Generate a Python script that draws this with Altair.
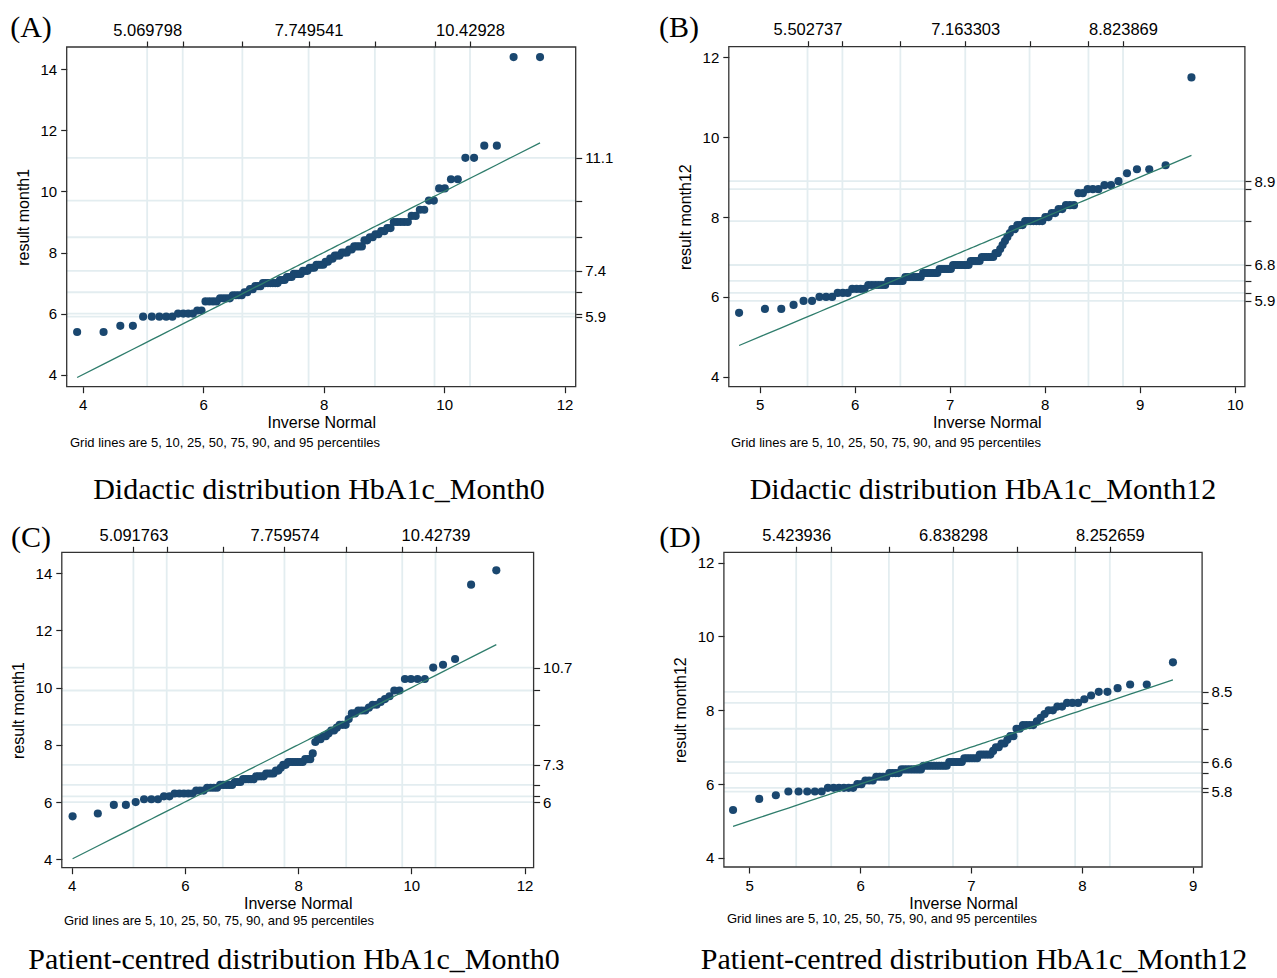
import altair as alt
import pandas as pd

W, H = 1277, 978

A_VALUES = [5.4, 5.4, 5.6, 5.6, 5.9, 5.9, 5.9, 5.9, 5.9, 6.0, 6.0, 6.0, 6.0, 6.1, 6.1,
            6.4, 6.4, 6.4, 6.4, 6.5, 6.5, 6.5, 6.5, 6.6, 6.6, 6.6, 6.6, 6.7, 6.7, 6.8, 6.8,
            6.9, 6.9, 6.9, 7.0, 7.0, 7.0, 7.0, 7.0, 7.0, 7.0, 7.1, 7.1, 7.1, 7.2, 7.2, 7.2,
            7.3, 7.3, 7.3, 7.3, 7.4, 7.4, 7.4, 7.5, 7.5, 7.5, 7.6, 7.6, 7.6, 7.6, 7.7, 7.7,
            7.8, 7.8, 7.9, 7.9, 7.9, 8.0, 8.0, 8.0, 8.1, 8.1, 8.2, 8.2, 8.2, 8.2, 8.4, 8.4,
            8.5, 8.5, 8.6, 8.6, 8.7, 8.7, 8.8, 8.8, 9.0, 9.0, 9.0, 9.0, 9.0, 9.2, 9.2, 9.4,
            9.4, 9.7, 9.7, 10.1, 10.1, 10.4, 10.4, 11.1, 11.1, 11.5, 11.5, 14.4, 14.4]
B_VALUES = [5.6, 5.7, 5.7, 5.8, 5.9, 5.9, 6.0, 6.0, 6.0, 6.1, 6.1, 6.1, 6.2, 6.2, 6.2, 6.2,
            6.3, 6.3, 6.3, 6.3, 6.3, 6.3, 6.4, 6.4, 6.4, 6.4, 6.4, 6.4, 6.5, 6.5, 6.5, 6.5,
            6.5, 6.5, 6.5, 6.6, 6.6, 6.6, 6.6, 6.6, 6.6, 6.6, 6.7, 6.7, 6.7, 6.7, 6.7, 6.7,
            6.8, 6.8, 6.8, 6.8, 6.8, 6.8, 6.8, 6.8, 6.9, 6.9, 6.9, 6.9, 6.9, 7.0, 7.0, 7.0,
            7.0, 7.0, 7.0, 7.1, 7.1, 7.2, 7.3, 7.4, 7.5, 7.6, 7.7, 7.7, 7.8, 7.8, 7.8, 7.9,
            7.9, 7.9, 7.9, 7.9, 7.9, 7.9, 8.0, 8.0, 8.1, 8.1, 8.2, 8.2, 8.3, 8.3, 8.3, 8.6,
            8.6, 8.7, 8.7, 8.7, 8.8, 8.8, 8.9, 9.1, 9.2, 9.2, 9.3, 11.5]
C_VALUES = [5.5, 5.6, 5.9, 5.9, 6.0, 6.1, 6.1, 6.1, 6.2, 6.2, 6.3, 6.3, 6.3, 6.3, 6.3,
            6.4, 6.4, 6.4, 6.5, 6.5, 6.5, 6.5, 6.6, 6.6, 6.6, 6.6, 6.6, 6.7, 6.7, 6.7, 6.8,
            6.8, 6.8, 6.8, 6.8, 6.9, 6.9, 6.9, 6.9, 7.0, 7.0, 7.0, 7.0, 7.1, 7.1, 7.2, 7.3,
            7.3, 7.4, 7.4, 7.4, 7.4, 7.4, 7.4, 7.4, 7.5, 7.5, 7.5, 7.7, 8.1, 8.2, 8.2, 8.3,
            8.3, 8.4, 8.5, 8.5, 8.6, 8.7, 8.7, 8.7, 8.9, 9.1, 9.1, 9.2, 9.2, 9.2, 9.3, 9.4,
            9.4, 9.5, 9.6, 9.7, 9.9, 9.9, 10.3, 10.3, 10.3, 10.3, 10.7, 10.8, 11.0, 13.6, 14.1]
D_VALUES = [5.3, 5.6, 5.7, 5.8, 5.8, 5.8, 5.8, 5.8, 5.9, 5.9, 5.9, 5.9, 5.9, 5.9, 6.0,
            6.0, 6.1, 6.1, 6.1, 6.2, 6.2, 6.2, 6.2, 6.3, 6.3, 6.3, 6.3, 6.4, 6.4, 6.4, 6.4,
            6.4, 6.4, 6.4, 6.4, 6.5, 6.5, 6.5, 6.5, 6.5, 6.5, 6.5, 6.5, 6.5, 6.5, 6.6, 6.6,
            6.6, 6.6, 6.6, 6.6, 6.7, 6.7, 6.7, 6.7, 6.7, 6.7, 6.8, 6.8, 6.8, 6.8, 6.8, 6.9,
            7.0, 7.0, 7.1, 7.1, 7.2, 7.3, 7.3, 7.5, 7.5, 7.6, 7.6, 7.6, 7.6, 7.7, 7.8, 7.9,
            8.0, 8.0, 8.1, 8.1, 8.2, 8.2, 8.2, 8.3, 8.4, 8.5, 8.5, 8.6, 8.7, 8.7, 9.3]

# normal reference (mean and sd as given by the top axis: 50th and 95th percentile labels)
MEANS = [7.749541, 7.163303, 7.759574, 6.838298]
SDS = [1.62916, 1.00955, 1.62192, 0.85987]

# tick values
TOP_TICKS = [[5.069798, 5.66, 6.65, 7.749541, 8.85, 9.84, 10.42928],
             [5.502737, 5.87, 6.48, 7.163303, 7.84, 8.46, 8.823869],
             [5.091763, 5.68, 6.67, 7.759574, 8.85, 9.84, 10.42739],
             [5.423936, 5.74, 6.26, 6.838298, 7.42, 7.94, 8.252659]]
TOP_LABELS = [["5.069798", "7.749541", "10.42928"],
              ["5.502737", "7.163303", "8.823869"],
              ["5.091763", "7.759574", "10.42739"],
              ["5.423936", "6.838298", "8.252659"]]
RIGHT_TICKS = [[5.9, 6.0, 6.7, 7.4, 8.5, 9.7, 11.1],
               [5.9, 6.1, 6.4, 6.8, 7.9, 8.7, 8.9],
               [6.0, 6.2, 6.6, 7.3, 8.7, 9.9, 10.7],
               [5.8, 5.9, 6.3, 6.6, 7.5, 8.2, 8.5]]
RIGHT_LABELS = [["5.9", "7.4", "11.1"],
                ["5.9", "6.8", "8.9"],
                ["6", "7.3", "10.7"],
                ["5.8", "6.6", "8.5"]]
LEFT_TICKS = [[4, 6, 8, 10, 12, 14], [4, 6, 8, 10, 12], [4, 6, 8, 10, 12, 14], [4, 6, 8, 10, 12]]
BOTTOM_TICKS = [[4, 6, 8, 10, 12], [5, 6, 7, 8, 9, 10], [4, 6, 8, 10, 12], [5, 6, 7, 8, 9]]

PANEL_IDS = ["(A)", "(B)", "(C)", "(D)"]
CAPTIONS = ["Didactic distribution HbA1c_Month0", "Didactic distribution HbA1c_Month12",
            "Patient-centred distribution HbA1c_Month0", "Patient-centred distribution HbA1c_Month12"]
Y_TITLES = ["result month1", "result month12", "result month1", "result month12"]
X_TITLE = "Inverse Normal"
NOTE = "Grid lines are 5, 10, 25, 50, 75, 90, and 95 percentiles"

# ---------------- layout (pixels) ----------------
PANEL_BOX = [(66.7, 47.0, 575.7, 386.7), (728.8, 46.7, 1244.9, 386.7),
             (61.8, 552.3, 533.6, 867.7), (723.9, 552.3, 1202.1, 867.0)]
X_DOM = [(3.734, 12.184), (4.674, 10.107), (3.827, 12.16), (4.772, 9.085)]
Y_DOM = [(3.607, 14.73), (3.75, 12.27), (3.706, 14.73), (3.756, 12.28)]
ID_POS = [(31, 28), (679, 28), (31, 538), (680, 538)]
NOTE_POS = [(70, 447), (731, 447), (64, 925), (727, 923)]
CAP_POS = [(319, 499), (983, 499), (294, 969), (974, 969)]

NAVY = "#1a476f"
LINE = "#2f7d6c"
GRID = "#e3edf0"
FRAME = "#333333"
SANS = "Liberation Sans, Arial, Helvetica, sans-serif"
SERIF = "Liberation Serif, Times New Roman, serif"


def label_expr_pairs(values, labels):
    parts = []
    for v, lab in zip(values, labels):
        parts.append(f"abs(datum.value - {v}) < 1e-9 ? '{lab}' : ")
    return "".join(parts) + "''"


one = pd.DataFrame({"k": [0]})


def panel(i, values):
    L, T, R, B = PANEL_BOX[i]
    x0, x1 = X_DOM[i]
    y0, y1 = Y_DOM[i]
    sx = alt.Scale(domain=[x0, x1], range=[L, R], nice=False, zero=False)
    sy = alt.Scale(domain=[y0, y1], range=[B, T], nice=False, zero=False)

    top_vals = [float(v) for v in TOP_LABELS[i]]
    top_axis = alt.Axis(orient="top", values=TOP_TICKS[i], offset=-T, title=None,
                        labelExpr=label_expr_pairs(top_vals, TOP_LABELS[i]),
                        labelPadding=3, labelFontSize=16.5)
    right_vals = [float(v) for v in RIGHT_LABELS[i]]
    right_axis = alt.Axis(orient="right", values=RIGHT_TICKS[i], offset=R - W, title=None,
                          labelExpr=label_expr_pairs(right_vals, RIGHT_LABELS[i]),
                          labelPadding=3)
    left_axis = alt.Axis(orient="left", values=LEFT_TICKS[i], offset=-L, title=Y_TITLES[i],
                         labelPadding=4, titlePadding=9)
    bottom_axis = alt.Axis(orient="bottom", values=BOTTOM_TICKS[i], offset=B - H, title=X_TITLE,
                           labelPadding=5, titlePadding=2)

    vgrid = alt.Chart(pd.DataFrame({"g": TOP_TICKS[i]})).mark_rule(
        color=GRID, strokeWidth=1.8).encode(
        x=alt.X("g:Q", scale=sx, axis=top_axis),
        y=alt.YDatum(y0, scale=sy, axis=None),
        y2=alt.Y2Datum(y1))
    hgrid = alt.Chart(pd.DataFrame({"g": RIGHT_TICKS[i]})).mark_rule(
        color=GRID, strokeWidth=1.8).encode(
        y=alt.Y("g:Q", scale=sy, axis=right_axis),
        x=alt.XDatum(x0, scale=sx, axis=None),
        x2=alt.X2Datum(x1))
    frame = alt.Chart(one).mark_rect(fillOpacity=0, stroke=FRAME, strokeWidth=1.3).encode(
        x=alt.XDatum(x0, scale=sx, axis=None), x2=alt.X2Datum(x1),
        y=alt.YDatum(y0, scale=sy, axis=None), y2=alt.Y2Datum(y1))

    base = alt.Chart(pd.DataFrame({"v": values})).transform_window(
        rank="row_number()", sort=[alt.SortField("v")]
    ).transform_joinaggregate(n="count()").transform_calculate(
        q=f"quantileNormal(datum.rank / (datum.n + 1), {MEANS[i]}, {SDS[i]})")

    pts = base.mark_circle(size=66, color=NAVY, opacity=1).encode(
        x=alt.X("q:Q", scale=sx, axis=bottom_axis),
        y=alt.Y("v:Q", scale=sy, axis=left_axis))
    ref = base.mark_line(color=LINE, strokeWidth=1.3).encode(
        x=alt.X("q:Q", scale=sx, axis=None),
        y=alt.Y("q:Q", scale=sy, axis=None))

    pid = alt.Chart(one).mark_text(text=PANEL_IDS[i], font=SERIF, fontSize=30, align="center",
                                   baseline="middle", color="#000").encode(
        x=alt.value(ID_POS[i][0]), y=alt.value(ID_POS[i][1]))
    note = alt.Chart(one).mark_text(text=NOTE, font=SANS, fontSize=13, align="left",
                                    baseline="alphabetic", color="#000").encode(
        x=alt.value(NOTE_POS[i][0]), y=alt.value(NOTE_POS[i][1]))
    cap = alt.Chart(one).mark_text(text=CAPTIONS[i], font=SERIF, fontSize=30, align="center",
                                   baseline="alphabetic", color="#000").encode(
        x=alt.value(CAP_POS[i][0]), y=alt.value(CAP_POS[i][1]))
    return [vgrid, hgrid, frame, pts, ref, pid, note, cap]


layers = []
for idx, vals in enumerate([A_VALUES, B_VALUES, C_VALUES, D_VALUES]):
    layers += panel(idx, vals)

chart = alt.layer(*layers).resolve_scale(x="independent", y="independent").properties(
    width=W, height=H, padding=0, autosize="none", background="white"
).configure_view(stroke=None).configure_axis(
    labelFont=SANS, labelFontSize=15, labelColor="#000",
    titleFont=SANS, titleFontSize=16, titleFontWeight="normal", titleColor="#000",
    tickColor="#222", tickWidth=1.2, tickSize=6, domain=False, grid=False,
    labelFlush=False, labelOverlap=False, labelBound=False
)

chart.save("out.html", embed_options={"renderer": "svg", "actions": False})
